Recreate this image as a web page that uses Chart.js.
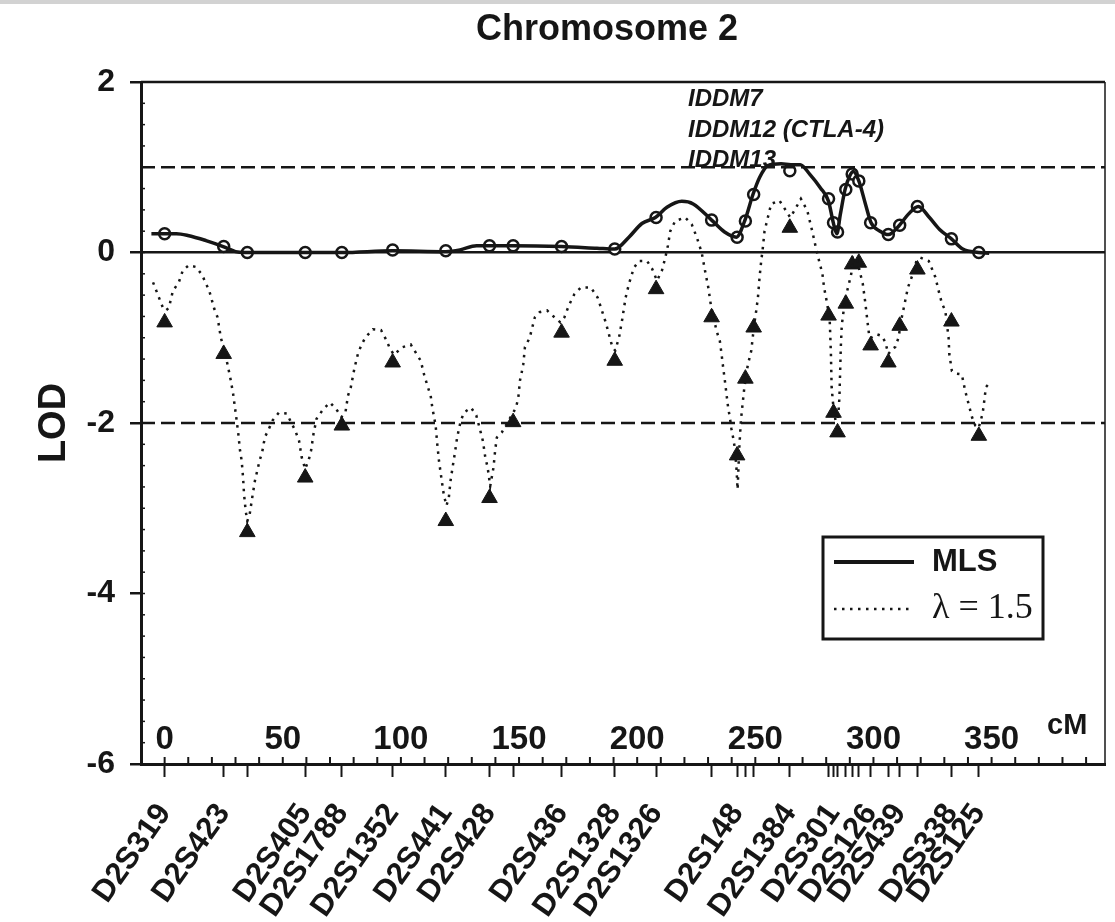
<!DOCTYPE html>
<html>
<head>
<meta charset="utf-8">
<title>Chromosome 2</title>
<script src="https://cdn.jsdelivr.net/npm/chart.js@4.4.1/dist/chart.umd.min.js"></script>
<style>
  html, body { margin: 0; padding: 0; background: #fff; }
  canvas { display: block; }
</style>
</head>
<body>
<canvas id="chart" width="1115" height="922"></canvas>
<script>
// Chromosome 2 - multipoint LOD scores (MLS) and the lambda = 1.5 exclusion curve
// values

// --- markers along the chromosome (cM) ---
const markerCM = [0, 25, 35, 59.5, 75, 96.5, 119, 137.5, 147.5, 168,
  190.5, 208, 231.5, 242.3, 245.8, 249.3, 264.6, 281, 283.1, 284.8,
  288.3, 291, 293.8, 298.8, 306.3, 311.1, 318.6, 333, 344.6];
const markerNames = ['D2S319', 'D2S423', '', 'D2S405', 'D2S1788', 'D2S1352', 'D2S441', 'D2S428', '', 'D2S436',
  'D2S1328', 'D2S1326', '', 'D2S148', '', '', 'D2S1384', '', 'D2S301', '',
  '', '', '', 'D2S126', '', 'D2S439', '', 'D2S338', 'D2S125'];
const mlsAtMarker = [0.22, 0.07, 0, 0, 0, 0.03, 0.02, 0.08, 0.08, 0.07,
  0.04, 0.41, 0.38, 0.18, 0.37, 0.68, 0.96, 0.63, 0.35, 0.24,
  0.74, 0.92, 0.84, 0.35, 0.21, 0.32, 0.54, 0.16, 0];
const lambdaAtMarker = [-0.82, -1.19, -3.28, -2.64, -2.03, -1.29, -3.15, -2.88, -1.99, -0.94,
  -1.27, -0.43, -0.76, -2.38, -1.48, -0.88, 0.29, -0.74, -1.88, -2.11,
  -0.6, -0.14, -0.12, -1.09, -1.29, -0.86, -0.2, -0.81, -2.15];

// --- MLS curve (solid) ---
const mlsCurveCM = [-5.6, 0, 5, 9.8, 17.5, 24.8, 30, 34, 60, 75,
  96.5, 119, 125, 132, 137.5, 147.5, 168, 183, 190.5, 196.5,
  202, 207.7, 212.6, 218.9, 223.7, 231.5, 237, 242, 245.5, 249,
  251.8, 255.3, 260.9, 265, 269, 273, 277.5, 281, 283, 284.5,
  286, 288, 290, 291.5, 293.8, 296.6, 299, 302.8, 306.3, 311,
  314.8, 319, 323.7, 328, 333, 337.8, 344.4, 349];
const mlsCurveLOD = [0.22, 0.22, 0.22, 0.2, 0.14, 0.07, 0.01, 0, 0, 0,
  0.02, 0.01, 0.03, 0.08, 0.08, 0.08, 0.07, 0.05, 0.04, 0.18,
  0.34, 0.41, 0.53, 0.6, 0.57, 0.38, 0.24, 0.18, 0.37, 0.68,
  0.88, 1.02, 1.04, 1.03, 1.03, 0.92, 0.76, 0.6, 0.35, 0.22,
  0.45, 0.74, 0.9, 0.95, 0.84, 0.57, 0.35, 0.25, 0.21, 0.32,
  0.45, 0.54, 0.41, 0.27, 0.16, 0.04, 0, -0.01];

// --- lambda = 1.5 curve (dotted) ---
const lambdaCurveCM = [-4.9, -3.5, -0.7, 0.5, 1.8, 3.5, 6, 7.7, 10.2, 13.3,
  15.8, 18.9, 21, 22.4, 23.8, 25, 26.6, 28, 29, 30.3,
  31.2, 31.9, 32.6, 33.2, 33.6, 34.3, 35, 36, 37.1, 38.2,
  39.2, 40.2, 41.3, 42, 42.7, 44.1, 45.7, 48.3, 51.7, 55.3,
  56.9, 58, 59.5, 61.1, 62, 63, 64.3, 67.1, 70, 72.7,
  74.8, 76.5, 77.6, 78.8, 80.4, 81.8, 83.2, 84.9, 88.1, 91.6,
  93.7, 95.1, 97, 100.7, 104.2, 108.4, 109.8, 111.2, 112.6, 113.3,
  114.7, 115.4, 116.1, 117.1, 118.2, 119.3, 120.3, 121, 122.1, 122.8,
  123.8, 125.2, 126.6, 129.7, 131.9, 133.6, 134.7, 135.7, 136.7, 137.8,
  139.2, 139.9, 140.6, 142.7, 144.8, 147.5, 148.7, 149.7, 150.4, 151.1,
  151.8, 152.5, 154.5, 156.7, 158.7, 161.9, 165, 167.5, 169.2, 171.1,
  173.4, 176.2, 180.4, 183.3, 186.7, 189.5, 190.7, 192.3, 193.7, 195.1,
  196.5, 198.6, 200.7, 204.2, 206.3, 208.4, 210.5, 211.9, 213, 214,
  216.1, 220.3, 223.1, 225.2, 227.3, 228.7, 230.1, 231.2, 233.6, 235,
  235.7, 236.4, 237.1, 237.8, 238.5, 239.2, 239.9, 240.6, 241.3, 242,
  242.5, 243.2, 243.9, 244.6, 245.3, 246.2, 246.9, 248.3, 249.5, 250.4,
  251.1, 251.8, 252.5, 253.2, 253.9, 255.3, 256.7, 260.2, 263, 264.8,
  266.5, 269.3, 272, 274.1, 275.6, 277, 278.4, 279.1, 280.4, 281.5,
  282, 282.3, 283, 284, 285, 285.6, 285.9, 286.2, 286.6, 288,
  289.6, 290.6, 291.3, 292.7, 294.1, 295.5, 296.6, 297.6, 298.3, 299,
  301.5, 303.6, 305, 306.3, 308, 309.2, 310.6, 312, 313.2, 314.6,
  316.7, 318.2, 319.8, 323.4, 326.2, 327.6, 329, 330.4, 331.8, 332.1,
  333.2, 335, 337.4, 338.8, 340.3, 341.7, 343.1, 344.5, 346.2, 346.9,
  347.6, 348.5];
const lambdaCurveLOD = [-0.35, -0.45, -0.65, -0.68, -0.65, -0.45, -0.35, -0.21, -0.15, -0.17,
  -0.26, -0.45, -0.66, -0.76, -1.0, -1.12, -1.31, -1.5, -1.66, -1.93,
  -2.13, -2.32, -2.44, -2.64, -2.83, -3.03, -3.15, -3.07, -2.87, -2.68,
  -2.56, -2.44, -2.34, -2.23, -2.15, -2.07, -1.97, -1.88, -1.89, -2.09,
  -2.21, -2.4, -2.54, -2.42, -2.32, -2.13, -1.95, -1.84, -1.76, -1.84,
  -1.93, -1.88, -1.68, -1.58, -1.35, -1.19, -1.09, -1.0, -0.9, -0.91,
  -1.02, -1.11, -1.2, -1.11, -1.08, -1.27, -1.43, -1.56, -1.68, -1.82,
  -2.03, -2.25, -2.44, -2.64, -2.85, -2.97, -2.87, -2.68, -2.48, -2.36,
  -2.17, -1.99, -1.88, -1.82, -1.91, -2.09, -2.21, -2.4, -2.52, -2.74,
  -2.52, -2.32, -2.17, -2.11, -2.01, -1.88, -1.82, -1.7, -1.5, -1.41,
  -1.31, -1.11, -1.0, -0.76, -0.7, -0.68, -0.76, -0.82, -0.76, -0.62,
  -0.49, -0.41, -0.41, -0.53, -0.82, -1.11, -1.15, -1.0, -0.78, -0.53,
  -0.37, -0.18, -0.1, -0.1, -0.19, -0.33, -0.21, -0.06, 0.08, 0.25,
  0.37, 0.41, 0.33, 0.18, 0, -0.21, -0.41, -0.62, -0.92, -1.04,
  -1.19, -1.35, -1.5, -1.66, -1.82, -1.93, -2.07, -2.17, -2.29, -2.52,
  -2.78, -2.3, -1.97, -1.78, -1.6, -1.42, -1.31, -1.15, -0.85, -0.68,
  -0.53, -0.29, -0.1, 0.06, 0.25, 0.41, 0.57, 0.61, 0.49, 0.41,
  0.49, 0.63, 0.49, 0.25, 0.06, -0.1, -0.25, -0.41, -0.6, -0.8,
  -1.19, -1.58, -1.8, -1.98, -1.95, -1.7, -1.4, -1.1, -0.85, -0.55,
  -0.37, -0.25, -0.06, -0.05, -0.21, -0.37, -0.6, -0.84, -1.0, -1.0,
  -0.96, -0.98, -1.05, -1.19, -1.13, -1.11, -1.0, -0.76, -0.6, -0.41,
  -0.25, -0.1, -0.06, -0.1, -0.29, -0.45, -0.6, -0.68, -1.0, -1.19,
  -1.39, -1.42, -1.43, -1.62, -1.78, -1.93, -2.03, -2.06, -1.89, -1.74,
  -1.58, -1.55];

// --- reference lines, axis text ---
const thresholdLOD = [1, -2];
const cmTickLabels = [0, 50, 100, 150, 200, 250, 300, 350];
const locusLabels = ['IDDM7', 'IDDM12 (CTLA-4)', 'IDDM13'];
const locusLabelLOD = [1.72, 1.36, 1.0];
const locusLabelCM = 221.5;
const xRange = [-10, 398];
const yRange = [-6, 2];

const INK = '#161616';
const SANS = '"Liberation Sans", Arial, Helvetica, sans-serif';
const SERIF = '"Liberation Serif", "Times New Roman", serif';

function pairs(xs, ys) {
  return xs.map((v, i) => ({ x: v, y: ys[i] }));
}

// --- extra drawing: frame, minor ticks, in-plot text, legend, title ---
const decorations = {
  id: 'decorations',
  beforeDraw(chart) {
    const ctx = chart.ctx;
    ctx.save();
    ctx.fillStyle = '#fff';
    ctx.fillRect(0, 0, chart.width, chart.height);
    ctx.fillStyle = '#d2d2d2';
    ctx.fillRect(0, 0, chart.width, 4);
    ctx.restore();
  },
  afterDraw(chart) {
    const ctx = chart.ctx;
    const a = chart.chartArea;
    const x = chart.scales.x;
    const y = chart.scales.y;
    ctx.save();
    ctx.strokeStyle = INK;
    ctx.fillStyle = INK;

    // top and right frame
    ctx.lineWidth = 2.5;
    ctx.beginPath();
    ctx.moveTo(a.left, a.top);
    ctx.lineTo(a.right, a.top);
    ctx.stroke();
    ctx.lineWidth = 1.5;
    ctx.beginPath();
    ctx.moveTo(a.right, a.top);
    ctx.lineTo(a.right, a.bottom);
    ctx.stroke();

    // minor ticks every 10 cM, pointing into the plot
    ctx.lineWidth = 2;
    for (let v = 0; v <= 390; v += 10) {
      const px = x.getPixelForValue(v);
      ctx.beginPath();
      ctx.moveTo(px, a.bottom);
      ctx.lineTo(px, a.bottom - 7);
      ctx.stroke();
    }
    // minor ticks on the LOD axis
    ctx.lineWidth = 1.5;
    for (let v = yRange[0]; v <= yRange[1]; v += 0.25) {
      const py = y.getPixelForValue(v);
      ctx.beginPath();
      ctx.moveTo(a.left, py);
      ctx.lineTo(a.left + 4, py);
      ctx.stroke();
    }

    // cM numbers inside the plot
    ctx.textAlign = 'center';
    ctx.textBaseline = 'middle';
    ctx.font = 'bold 33px ' + SANS;
    const numY = y.getPixelForValue(-5.72);
    cmTickLabels.forEach(v => ctx.fillText(String(v), x.getPixelForValue(v), numY));
    ctx.font = 'bold 29px ' + SANS;
    ctx.fillText('cM', x.getPixelForValue(382), y.getPixelForValue(-5.55));

    // locus names
    ctx.textAlign = 'left';
    ctx.textBaseline = 'alphabetic';
    ctx.font = 'italic bold 24px ' + SANS;
    locusLabels.forEach((t, i) => {
      ctx.fillText(t, x.getPixelForValue(locusLabelCM), y.getPixelForValue(locusLabelLOD[i]));
    });

    // legend box
    const bx = a.left + 682, by = a.top + 455, bw = 220, bh = 102;
    ctx.fillStyle = '#fff';
    ctx.fillRect(bx, by, bw, bh);
    ctx.fillStyle = INK;
    ctx.lineWidth = 3;
    ctx.strokeRect(bx, by, bw, bh);
    ctx.lineWidth = 4;
    ctx.beginPath();
    ctx.moveTo(bx + 11, by + 25);
    ctx.lineTo(bx + 91, by + 25);
    ctx.stroke();
    ctx.lineWidth = 2.5;
    ctx.setLineDash([2.5, 5.5]);
    ctx.beginPath();
    ctx.moveTo(bx + 11, by + 72);
    ctx.lineTo(bx + 86, by + 72);
    ctx.stroke();
    ctx.setLineDash([]);
    ctx.textBaseline = 'middle';
    ctx.font = 'bold 31px ' + SANS;
    ctx.fillText('MLS', bx + 109, by + 25);
    ctx.font = '36px ' + SERIF;
    ctx.fillText('\u03bb = 1.5', bx + 109, by + 72);

    // title
    ctx.textAlign = 'center';
    ctx.font = 'bold 36px ' + SANS;
    ctx.fillText('Chromosome 2', a.left + 466, 30);

    ctx.restore();
  }
};

const datasets = [];
thresholdLOD.forEach(v => {
  datasets.push({
    label: 'LOD ' + v,
    data: [{ x: xRange[0], y: v }, { x: xRange[1], y: v }],
    borderColor: INK,
    borderWidth: 2.5,
    borderDash: [14, 6],
    pointRadius: 0
  });
});
datasets.push({
  label: 'lambda = 1.5',
  data: pairs(lambdaCurveCM, lambdaCurveLOD),
  borderColor: INK,
  borderWidth: 2.5,
  borderDash: [2.5, 5.5],
  pointRadius: 0,
  tension: 0
});
datasets.push({
  label: 'MLS',
  data: pairs(mlsCurveCM, mlsCurveLOD),
  borderColor: INK,
  borderWidth: 3.5,
  pointRadius: 0,
  cubicInterpolationMode: 'monotone'
});
datasets.push({
  label: 'lambda at markers',
  data: pairs(markerCM, lambdaAtMarker),
  showLine: false,
  pointStyle: 'triangle',
  pointRadius: 9,
  backgroundColor: INK,
  borderColor: INK,
  borderWidth: 1
});
datasets.push({
  label: 'MLS at markers',
  data: pairs(markerCM, mlsAtMarker),
  showLine: false,
  pointStyle: 'circle',
  pointRadius: 5.5,
  backgroundColor: '#fff',
  borderColor: INK,
  borderWidth: 2.5
});

new Chart(document.getElementById('chart'), {
  type: 'line',
  data: { datasets: datasets },
  options: {
    responsive: false,
    animation: false,
    devicePixelRatio: 1,
    layout: { padding: { top: 82, right: 2, left: 0, bottom: 0 } },
    plugins: {
      legend: { display: false },
      tooltip: { enabled: false },
      title: { display: false }
    },
    scales: {
      x: {
        type: 'linear',
        min: xRange[0],
        max: xRange[1],
        afterBuildTicks: s => { s.ticks = markerCM.map(v => ({ value: v })); },
        afterFit: s => { s.height = 158; },
        ticks: {
          autoSkip: false,
          minRotation: 55,
          maxRotation: 55,
          padding: 20,
          color: INK,
          font: { family: SANS, weight: 'bold', size: 31 },
          callback: (v, i) => markerNames[i]
        },
        grid: {
          drawOnChartArea: false,
          tickLength: 13,
          tickWidth: 2,
          tickColor: INK
        },
        border: { color: INK, width: 3 }
      },
      y: {
        min: yRange[0],
        max: yRange[1],
        afterFit: s => { s.width = 141; },
        ticks: {
          stepSize: 2,
          padding: 15,
          color: INK,
          font: { family: SANS, weight: 'bold', size: 32 }
        },
        title: {
          display: true,
          text: 'LOD',
          color: INK,
          font: { family: SANS, weight: 'bold', size: 38 },
          padding: { top: 32, bottom: 0 }
        },
        grid: {
          color: c => (c.tick && c.tick.value === 0 ? INK : 'rgba(0,0,0,0)'),
          lineWidth: 2.5,
          tickLength: 11,
          tickWidth: 2.5,
          tickColor: INK
        },
        border: { color: INK, width: 3 }
      }
    }
  },
  plugins: [decorations]
});
</script>
</body>
</html>
